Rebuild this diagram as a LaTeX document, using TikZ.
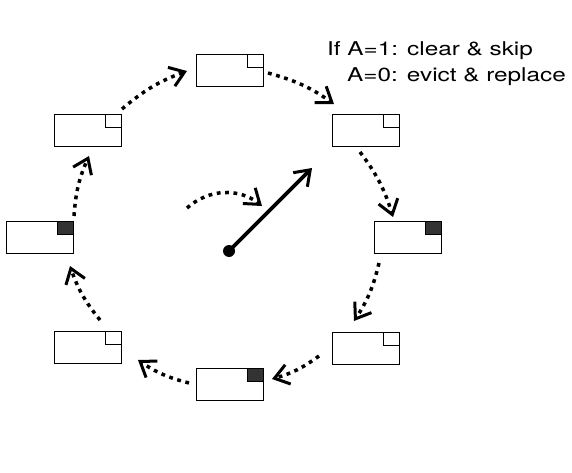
\documentclass[tikz,border=0pt]{standalone}
\usepackage{fontspec}
\setmainfont{TeX Gyre Heros}
\usetikzlibrary{arrows.meta}
\tikzset{
  slot/.style={draw, line width=1.4pt, fill=white, minimum width=67pt, minimum height=32pt, inner sep=0pt, anchor=north west},
  bitempty/.style={draw, line width=1.4pt, fill=white, minimum width=16pt, minimum height=13pt, inner sep=0pt, anchor=north east},
  bitfull/.style={draw, line width=1.4pt, fill=black!80, minimum width=16pt, minimum height=13pt, inner sep=0pt, anchor=north east},
  tip/.style={-{Straight Barb[length=14pt,width=20pt,line width=3pt]}},
  hop/.style={tip, line width=3.5pt, dash pattern=on 3.8pt off 4.6pt, bend left=10},
  hand/.style={tip, line width=3.8pt},
  label/.style={anchor=base west, inner sep=0pt, font=\fontsize{19}{26}\selectfont}
}
\begin{document}
\begin{tikzpicture}[x=1pt,y=-1pt]
\useasboundingbox (0,0) rectangle (572,473);
% slots
\node[slot] (top) at (196,54) {};
\node[slot] (tr) at (332,114) {};
\node[slot] (r) at (374,221) {};
\node[slot] (br) at (332,332) {};
\node[slot] (b) at (196,368) {};
\node[slot] (bl) at (54,331) {};
\node[slot] (l) at (6,221) {};
\node[slot] (tl) at (54,114) {};
% reference bits
\node[bitempty] (topbit) at (top.north east) {};
\node[bitempty] (trbit) at (tr.north east) {};
\node[bitfull] (rbit) at (r.north east) {};
\node[bitempty] (brbit) at (br.north east) {};
\node[bitfull] (bbit) at (b.north east) {};
\node[bitempty] (blbit) at (bl.north east) {};
\node[bitfull] (lbit) at (l.north east) {};
\node[bitempty] (tlbit) at (tl.north east) {};
% arrow end points
\coordinate (a1s) at (122,109); \coordinate (a1e) at (187,71);
\coordinate (a2s) at (268,73);  \coordinate (a2e) at (334,104);
\coordinate (a3s) at (360,152); \coordinate (a3e) at (393,217);
\coordinate (a4s) at (379,263); \coordinate (a4e) at (354,321);
\coordinate (a5s) at (319,356); \coordinate (a5e) at (272,379);
\coordinate (a6s) at (189,383); \coordinate (a6e) at (138,360);
\coordinate (a7s) at (100,320); \coordinate (a7e) at (70,266);
\coordinate (a8s) at (74,216);  \coordinate (a8e) at (89,156);
\draw[hop] (a1s) to (a1e);
\draw[hop] (a2s) to (a2e);
\draw[hop] (a3s) to (a3e);
\draw[hop] (a4s) to (a4e);
\draw[hop] (a5s) to (a5e);
\draw[hop] (a6s) to (a6e);
\draw[hop] (a7s) to (a7e);
\draw[hop] (a8s) to (a8e);
% clock hand
\coordinate (cs) at (187,208); \coordinate (ce) at (262,206);
\draw[hop, bend left=40] (cs) to (ce);
\node[circle, fill=black, minimum size=12pt, inner sep=0pt] (pivot) at (229,251) {};
\coordinate (handtip) at (312,168);
\draw[hand] (pivot.center) -- (handtip);
% text
\node[label] (t1) at (327,55.7) {\scalebox{1.28}[1]{If A=1: clear \& skip}};
\node[label] (t2) at (347,81.7) {\scalebox{1.28}[1]{A=0: evict \& replace}};
\end{tikzpicture}
\end{document}
